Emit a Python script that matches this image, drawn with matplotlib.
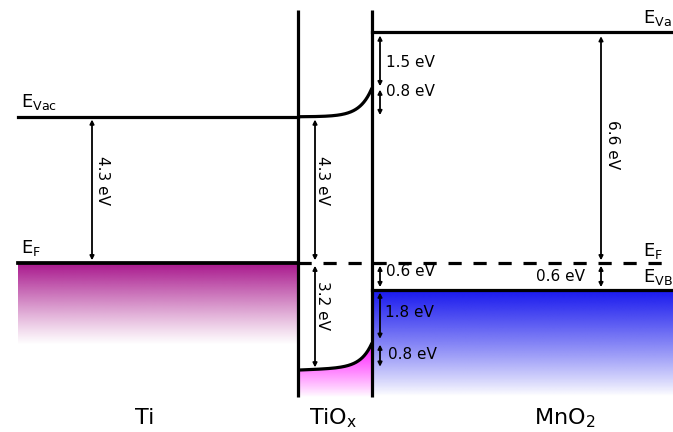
import numpy as np
import matplotlib
matplotlib.use("Agg")
import matplotlib.pyplot as plt
from matplotlib.colors import to_rgb

plt.rcParams['font.family'] = ['DejaVu Sans']
plt.rcParams['lines.scale_dashes'] = False

# ---- energy levels (eV, relative to Fermi level), schematic ----
E_F = 0.0
Ti_vac = 4.3
MnO2_vac = 6.79
TiOx_cb_right = 5.15
MnO2_vb = -0.79
TiOx_bot_left = -3.15
TiOx_bot_right = -2.35
lower_split = -2.28

# region x extents (layout units)
x_left, x_int1, x_int2, x_right = 18, 298, 372, 673

arrow_labels = ["4.3 eV", "4.3 eV", "3.2 eV", "6.6 eV", "1.5 eV", "0.8 eV",
                "0.6 eV", "1.8 eV", "0.8 eV", "0.6 eV"]
region_names = ["Ti", "TiO$_\\mathregular{x}$", "MnO$_\\mathregular{2}$"]

fig = plt.figure(figsize=(6.73, 4.32), dpi=100)
ax = fig.add_axes([0, 0, 1, 1])
ax.set_xlim(0, 673)
ax.set_ylim(-4.97, 7.735)
ax.axis('off')

LW = 2.3

def gradient(x0, x1, ytop, ybot, color, power=1.0, z=0):
    n = 256
    t = np.linspace(0, 1, n)[:, None]
    rgba = np.zeros((n, 2, 4))
    rgba[..., :3] = to_rgb(color)
    rgba[..., 3] = np.clip((1 - t) ** power, 0, 1)
    ax.imshow(rgba, extent=[x0, x1, ybot, ytop], aspect='auto', origin='upper',
              zorder=z, interpolation='bilinear')

# gradients
gradient(x_left, x_int1, E_F, -2.4, '#a8168c', power=1.1)
gradient(x_int2, x_right, MnO2_vb, -3.9, '#1818ee', power=0.9)

# TiOx band-bending curves
xs = np.linspace(x_int1, x_int2, 200)
bot = TiOx_bot_left + 0.08 * (xs - x_int1) / (x_int2 - x_int1) + \
      (TiOx_bot_right - TiOx_bot_left - 0.08) * np.exp((xs - x_int2) / 11)
top = Ti_vac + (TiOx_cb_right - Ti_vac) * np.exp((xs - x_int2) / 12)

# magenta gradient clipped under curve
n = 256
t = np.linspace(0, 1, n)[:, None]
rgba = np.zeros((n, 2, 4))
rgba[..., :3] = to_rgb('#ff10ff')
rgba[..., 3] = (1 - t) ** 0.9
im = ax.imshow(rgba, extent=[x_int1, x_int2, -3.95, TiOx_bot_right], aspect='auto',
               origin='upper', zorder=1, interpolation='bilinear')
clip = matplotlib.patches.Polygon(np.column_stack([np.r_[xs, xs[::-1]],
                                                   np.r_[bot, np.full_like(xs, -3.95)]]),
                                  closed=True, transform=ax.transData, fc='none', ec='none')
ax.add_patch(clip)
im.set_clip_path(clip)

ax.plot(xs, bot, color='black', lw=LW, zorder=3, solid_capstyle='butt')
ax.plot(xs, top, color='black', lw=LW, zorder=3, solid_capstyle='butt')

# horizontal levels
ax.plot([x_left, x_int1], [Ti_vac, Ti_vac], color='black', lw=LW, zorder=3)
ax.plot([x_left, x_int1], [E_F, E_F], color='black', lw=LW + 0.4, zorder=3)
ax.plot([x_int2, x_right], [MnO2_vac, MnO2_vac], color='black', lw=LW, zorder=3)
ax.plot([x_int2, x_right], [MnO2_vb, MnO2_vb], color='black', lw=LW, zorder=3)
ax.plot([x_int1, 662], [E_F, E_F], color='black', lw=LW, zorder=3,
        dashes=(9.5, 8.5))

# interfaces
for xv in (x_int1, x_int2):
    ax.plot([xv, xv], [-3.94, 7.44], color='black', lw=LW, zorder=4,
            solid_capstyle='butt')

def darrow(x, y0, y1):
    ax.annotate('', xy=(x, y1), xytext=(x, y0),
                arrowprops=dict(arrowstyle='<|-|>', color='black', lw=1.3,
                                mutation_scale=6, shrinkA=0, shrinkB=0), zorder=5)

gap = 0.08
# Ti
darrow(92, Ti_vac - gap, E_F + gap)
ax.text(103, 2.44, arrow_labels[0], rotation=-90, ha='center', va='center', fontsize=11)
# TiOx
darrow(315, Ti_vac - gap, E_F + gap)
ax.text(323, 2.44, arrow_labels[1], rotation=-90, ha='center', va='center', fontsize=11)
darrow(315, E_F - gap, TiOx_bot_left + 0.08)
ax.text(323, -1.26, arrow_labels[2], rotation=-90, ha='center', va='center', fontsize=11)
# MnO2 side
darrow(601, MnO2_vac - 0.12, E_F + gap)
ax.text(612, 3.47, arrow_labels[3], rotation=-90, ha='center', va='center', fontsize=11)
darrow(380, MnO2_vac - 0.1, TiOx_cb_right + 0.05)
ax.text(386, 5.91, arrow_labels[4], ha='left', va='center', fontsize=11)
darrow(380, TiOx_cb_right - 0.05, Ti_vac + 0.05)
ax.text(386, 5.03, arrow_labels[5], ha='left', va='center', fontsize=11)
darrow(380, E_F - gap, MnO2_vb + gap)
ax.text(386, -0.26, arrow_labels[6], ha='left', va='center', fontsize=11)
darrow(380, MnO2_vb - gap, lower_split + 0.05)
ax.text(385, -1.47, arrow_labels[7], ha='left', va='center', fontsize=11)
darrow(380, lower_split - 0.12, TiOx_bot_left + 0.1)
ax.text(388, -2.68, arrow_labels[8], ha='left', va='center', fontsize=11)
darrow(601, E_F - gap, MnO2_vb + gap)
ax.text(585, -0.41, arrow_labels[9], ha='right', va='center', fontsize=11)

# level labels
ax.text(21, 4.45, 'E$_\\mathregular{Vac}$', ha='left', va='bottom', fontsize=13)
ax.text(21, 0.15, 'E$_\\mathregular{F}$', ha='left', va='bottom', fontsize=13)
ax.text(643, 6.92, 'E$_\\mathregular{Va}$', ha='left', va='bottom', fontsize=13)
ax.text(643, 0.05, 'E$_\\mathregular{F}$', ha='left', va='bottom', fontsize=13)
ax.text(643, -0.72, 'E$_\\mathregular{VB}$', ha='left', va='bottom', fontsize=13)

# region names
for xc, name in zip((145, 333, 565), region_names):
    ax.text(xc, -4.56, name, ha='center', va='center', fontsize=16)

fig.savefig('out.png', dpi=100)
